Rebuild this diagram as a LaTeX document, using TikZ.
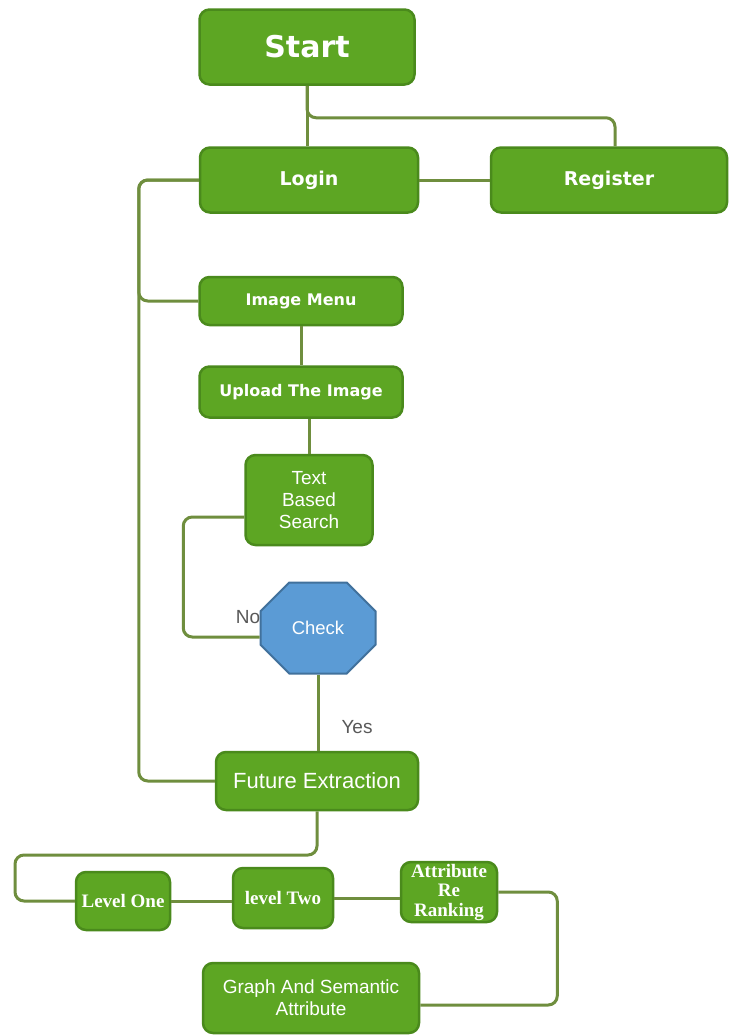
\documentclass[tikz,border=0pt]{standalone}
\usepackage{fontspec}
\setmainfont{Liberation Sans}
\newfontfamily\serifb{Liberation Serif}
\newfontfamily\boldsans{DejaVu Sans}
\usetikzlibrary{shapes.misc,calc}
\definecolor{gfill}{HTML}{5DA623}
\definecolor{gborder}{HTML}{4A8A1C}
\definecolor{conn}{HTML}{6F8E3E}
\definecolor{bfill}{HTML}{5B9BD5}
\definecolor{bborder}{HTML}{41719C}
\definecolor{lbl}{HTML}{595959}
\tikzset{
  box/.style={draw=gborder, fill=gfill, line width=2.5pt, rounded corners=10pt, text=white, align=center, inner sep=2pt},
  wire/.style={draw=conn, line width=3pt, rounded corners=9pt},
  oct/.style={chamfered rectangle, draw=bborder, fill=bfill, line width=2pt, text=white,
    chamfered rectangle xsep=25pt, chamfered rectangle ysep=22pt, inner sep=0pt,
    minimum width=115pt, minimum height=91pt},
  lab/.style={text=lbl, font=\fontsize{19}{21}\selectfont},
  fbig/.style={font=\boldsans\bfseries\fontsize{30}{32}\selectfont},
  fmid/.style={font=\boldsans\bfseries\fontsize{19}{21}\selectfont},
  fsml/.style={font=\boldsans\bfseries\fontsize{16}{18}\selectfont},
  freg/.style={font=\fontsize{19}{22}\selectfont},
  fser/.style={font=\serifb\bfseries\fontsize{19}{19.5}\selectfont},
}
\begin{document}
\begin{tikzpicture}[x=1pt,y=-1pt]
\useasboundingbox[fill=white] (0,0) rectangle (730,1036);
\node[box,fbig, minimum width=215pt, minimum height=75pt] (start) at (307,47) {Start};
\node[box,fmid, minimum width=218pt, minimum height=65pt] (login) at (309,180) {Login};
\node[box,fmid, minimum width=236pt, minimum height=65pt] (register) at (609,180) {Register};
\node[box,fsml, minimum width=203pt, minimum height=48pt] (imenu) at (301,301) {Image Menu};
\node[box,fsml, minimum width=203pt, minimum height=51pt] (upload) at (301,392) {Upload The Image};
\node[box,freg, minimum width=127pt, minimum height=90pt] (tbs) at (309,500) {Text\\Based\\Search};
\node[lab] (no) at (248,617) {No};
\node[oct, font=\fontsize{18.5}{20}\selectfont] (check) at (318,628) {Check};
\node[lab] (yes) at (357,727) {Yes};
\node[box, font=\fontsize{22}{24}\selectfont, minimum width=202pt, minimum height=58pt] (future) at (317,781) {Future Extraction};
\node[box,fser, minimum width=94pt, minimum height=58pt, inner sep=0pt] (l1) at (123,901) {Level One};
\node[box,fser, minimum width=100pt, minimum height=60pt, inner sep=0pt] (l2) at (283,898) {level Two};
\node[box,fser, minimum width=96pt, minimum height=60pt, inner sep=0pt] (attr) at (449,892) {Attribute\\Re\\Ranking};
\node[box,freg, minimum width=216pt, minimum height=70pt] (graph) at (311,998) {Graph And Semantic\\Attribute};
\coordinate (trunk) at ($(login.west)+(-60,0)$);
\coordinate (fl) at (15,855);
% connectors
\draw[wire] (start.south) -- (start.south |- login.north);
\draw[wire] (start.south) -- ++(0,32) -| ([xshift=6pt]register.north);
\draw[wire] (login.east) -- (register.west);
\draw[wire] (login.west) -- (trunk) |- (future.west);
\draw[wire] (login.west) -- (trunk) |- (imenu.west);
\draw[wire] (imenu.south) -- (upload.north);
\draw[wire] (tbs.north) -- (tbs.north |- upload.south);
\draw[wire] ([yshift=-17pt]tbs.west) -- ++(-61,0) |- ([yshift=-9pt]check.west);
\draw[wire] (check.south) -- (check.south |- future.north);
\draw[wire] (future.south) |- (fl) |- (l1.west);
\draw[wire] (l1.east) -- (l1.east -| l2.west);
\draw[wire] (l2.east) -- (l2.east -| attr.west);
\draw[wire] (attr.east) -- ++(59,0) |- ([yshift=-7pt]graph.east);
\end{tikzpicture}
\end{document}
